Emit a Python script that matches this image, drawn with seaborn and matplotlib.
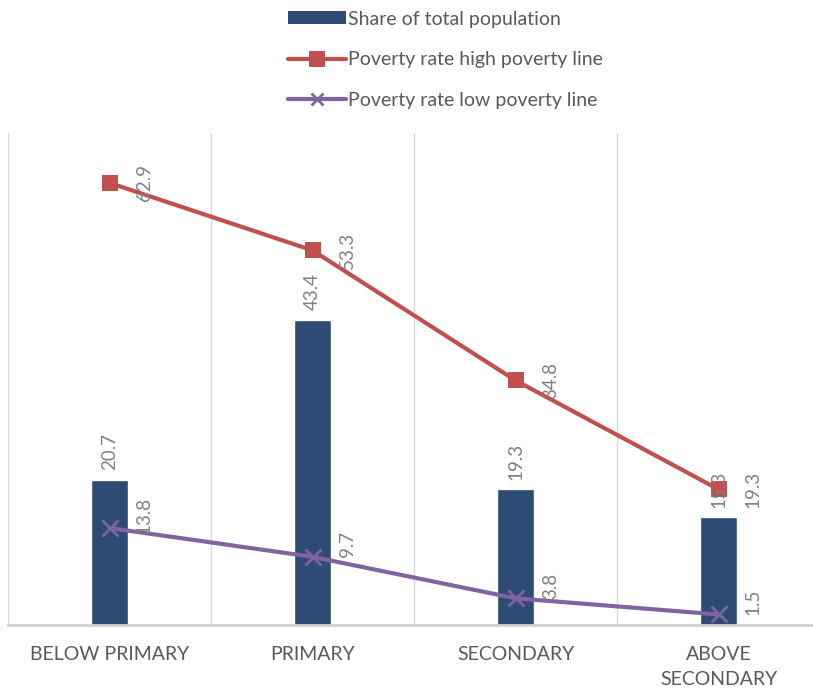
import matplotlib
matplotlib.use("Agg")
import matplotlib.pyplot as plt
import seaborn as sns
import pandas as pd
from matplotlib.lines import Line2D
from matplotlib.patches import Patch

categories = ["BELOW PRIMARY", "PRIMARY", "SECONDARY", "ABOVE\nSECONDARY"]
share_population = [20.7, 43.4, 19.3, 15.3]
poverty_high = [62.9, 53.3, 34.8, 19.3]
poverty_low = [13.8, 9.7, 3.8, 1.5]

BAR_COLOR = "#2E4B73"
HIGH_COLOR = "#C0504D"
LOW_COLOR = "#8064A2"
LABEL_GRAY = "#808080"
TEXT_GRAY = "#595959"

sns.set_theme(style="white")
plt.rcParams["font.family"] = ["Lato", "DejaVu Sans"]

df = pd.DataFrame({
    "pos": range(len(categories)),
    "category": categories,
    "share": share_population,
    "high": poverty_high,
    "low": poverty_low,
})

fig = plt.figure(figsize=(8.13, 6.89), dpi=100)
ax = fig.add_axes([8 / 813, 64 / 689, 805 / 813, 492 / 689])

sns.barplot(data=df, x="pos", y="share", color=BAR_COLOR, width=0.18,
            saturation=1, ax=ax, zorder=2)
sns.lineplot(data=df, x="pos", y="high", color=HIGH_COLOR, linewidth=3,
             marker="s", markersize=12, markeredgewidth=0, ax=ax, zorder=3)
sns.lineplot(data=df, x="pos", y="low", color=LOW_COLOR, linewidth=3,
             marker="x", markersize=11, markeredgewidth=2,
             markeredgecolor=LOW_COLOR, ax=ax, zorder=3)

ax.set_xlim(-0.5, -0.5 + 4 * 805 / 812)
ax.set_ylim(0, 70)

# vertical separators between categories
for b in [-0.5, 0.5, 1.5, 2.5, 3.5]:
    ax.axvline(b, color="#D9D9D9", linewidth=1, zorder=0)

for s in ["top", "right", "left"]:
    ax.spines[s].set_visible(False)
ax.spines["bottom"].set_color("#D0D0D0")
ax.spines["bottom"].set_linewidth(2)

ax.set_yticks([])
ax.set_xticks(df["pos"])
ax.set_xticklabels(categories, fontsize=14, color=TEXT_GRAY, linespacing=1.55)
ax.tick_params(axis="x", length=0, pad=15)
ax.set_xlabel("")
ax.set_ylabel("")

# value labels
for x, v in zip(df["pos"], share_population):
    ax.annotate(f"{v:.1f}", (x, v), xytext=(0, 7), textcoords="offset points",
                rotation=90, ha="center", va="bottom", fontsize=13.5,
                color=LABEL_GRAY, zorder=4)
for series, dy in ((poverty_high, 0), (poverty_low, 9)):
    for x, v in zip(df["pos"], series):
        ax.annotate(f"{v:.1f}", (x, v), xytext=(25, dy), textcoords="offset points",
                    rotation=90, ha="center", va="center", fontsize=13.5,
                    color=LABEL_GRAY, zorder=4)

handles = [
    Patch(facecolor=BAR_COLOR, edgecolor="none"),
    Line2D([], [], color=HIGH_COLOR, linewidth=3, marker="s", markersize=11,
           markeredgewidth=0),
    Line2D([], [], color=LOW_COLOR, linewidth=3, marker="x", markersize=9,
           markeredgewidth=2),
]
labels = ["Share of total population", "Poverty rate high poverty line",
          "Poverty rate low poverty line"]
fig.legend(handles, labels, loc="upper left", bbox_to_anchor=(270 / 813, 1 + 7 / 689),
           frameon=False, fontsize=14, labelcolor=TEXT_GRAY, handlelength=3.0,
           handleheight=0.6, handletextpad=0.1, labelspacing=1.22)

fig.savefig("out.png", dpi=100)
